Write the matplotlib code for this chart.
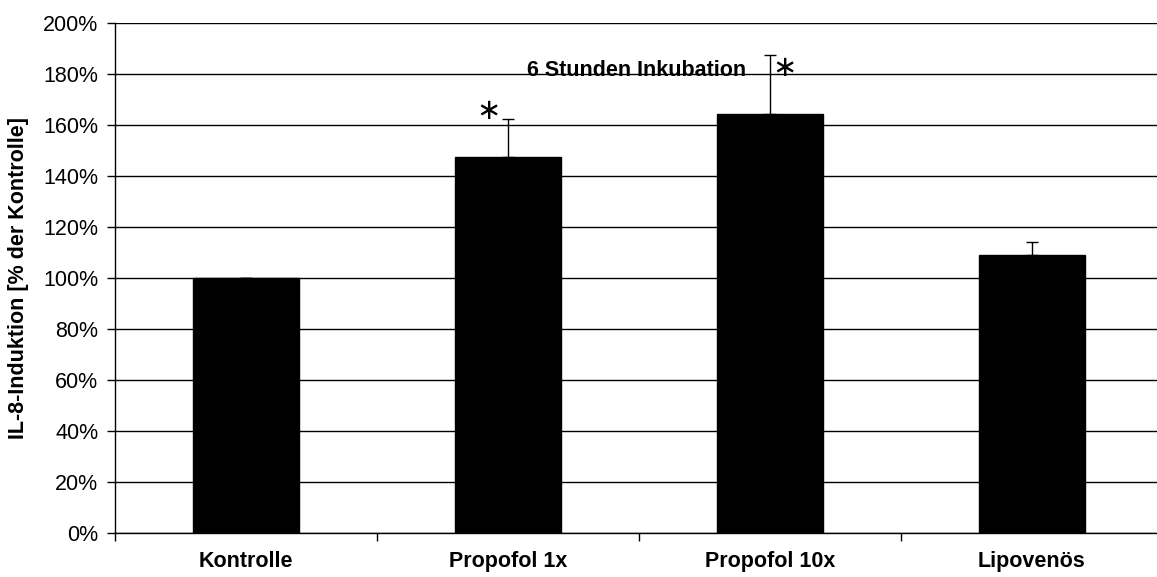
import matplotlib
matplotlib.use("Agg")
import matplotlib.pyplot as plt
from matplotlib.ticker import FixedLocator, PercentFormatter

plt.rcParams['font.family'] = ['Liberation Sans', 'DejaVu Sans']

groups = ["Kontrolle", "Propofol 1x", "Propofol 10x", "Lipovenös"]
induction = [100, 147.3, 164.2, 109]
err_up = [0, 14.9, 23.1, 5]

fig = plt.figure(figsize=(11.57, 5.77), dpi=100)
ax = fig.add_axes([0.0994, 0.0763, 0.9056, 0.8838])

x = range(len(groups))
ax.bar(x, induction, width=0.405, color="black", edgecolor="black", zorder=3)
ax.errorbar(x, induction, yerr=[[0] * len(err_up), err_up], fmt="none",
            ecolor="black", elinewidth=1, capsize=4, capthick=1, zorder=4)

# stars next to the significant bars
ax.text(0.927, 165.5, "\u2217", ha="center", va="center", fontsize=21,
        family="DejaVu Sans", zorder=5)
ax.text(2.057, 182.4, "\u2217", ha="center", va="center", fontsize=21,
        family="DejaVu Sans", zorder=5)
ax.text(1.492, 181.3, "6 Stunden Inkubation", ha="center", va="center",
        fontsize=15.5, fontweight="bold", zorder=5)

ax.set_xlim(-0.5, 3.5)
ax.set_ylim(0, 200)
ax.yaxis.set_major_locator(FixedLocator(range(0, 201, 20)))
ax.yaxis.set_major_formatter(PercentFormatter(decimals=0))
ax.grid(axis="y", color="black", linewidth=1, zorder=0)

ax.set_xticks(list(x))
ax.set_xticklabels(groups, fontsize=15.5, fontweight="bold")
ax.set_xticks([-0.5, 0.5, 1.5, 2.5, 3.5], minor=True)
ax.tick_params(axis="x", which="major", length=0, pad=13)
ax.tick_params(axis="x", which="minor", length=6, width=1, direction="out")
ax.tick_params(axis="y", length=6, width=1, direction="out", labelsize=15.5, pad=6)

ax.set_ylabel("IL-8-Induktion [% der Kontrolle]", fontsize=15.5, fontweight="bold", labelpad=10)

for s in ["top", "right"]:
    ax.spines[s].set_visible(False)
ax.spines["left"].set_linewidth(1)
ax.spines["bottom"].set_linewidth(1)

fig.savefig("out.png", dpi=100)
